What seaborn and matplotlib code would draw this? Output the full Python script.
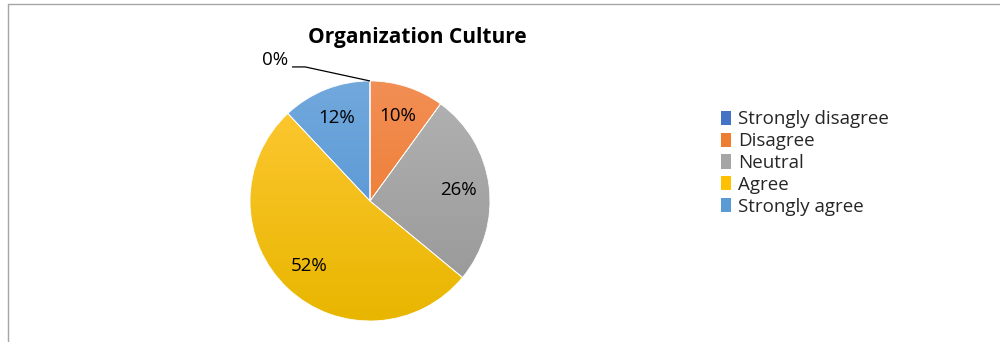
import numpy as np
import matplotlib
matplotlib.use("Agg")
import matplotlib.pyplot as plt
from matplotlib.colors import LinearSegmentedColormap
from matplotlib.patches import Patch
from matplotlib.lines import Line2D
import seaborn as sns

# Survey responses (percent of respondents)
categories = ["Strongly disagree", "Disagree", "Neutral", "Agree", "Strongly agree"]
percentages = [0, 10, 26, 52, 12]
title = "Organization Culture"

# Office-style gradient fills: (top colour, bottom colour)
gradients = [
    ("#5682D0", "#3A66BE"),
    ("#F28F55", "#EC7220"),
    ("#B3B3B3", "#959595"),
    ("#FFC936", "#E8B600"),
    ("#72A9DD", "#4A8DD0"),
]
legend_colors = ["#4472C4", "#ED7D31", "#A5A5A5", "#FFC000", "#5B9BD5"]

sns.set_theme(style="white")
plt.rcParams["font.family"] = ["Open Sans", "DejaVu Sans"]

fig = plt.figure(figsize=(10, 3.42), dpi=100)
ax = fig.add_axes([0.19, 0.0, 0.36, 322 / 342])

wedges, _ = ax.pie(
    percentages,
    startangle=90,
    counterclock=False,
    colors=legend_colors,
    radius=1.0,
    wedgeprops=dict(edgecolor="white", linewidth=0.6),
)

# Vertical gradient inside each wedge
grad = np.linspace(0, 1, 256).reshape(-1, 1)
for w, (top, bottom) in zip(wedges, gradients):
    cmap = LinearSegmentedColormap.from_list("g", [top, bottom])
    im = ax.imshow(grad, cmap=cmap, extent=(-1, 1, -1, 1), origin="upper",
                   aspect="auto", zorder=w.get_zorder() + 0.1)
    im.set_clip_path(w)
    w.set_facecolor("none")
    w.set_zorder(w.get_zorder() + 0.2)

# Percentage labels at the middle of each slice
total = sum(percentages)
start = 90.0
for w, p in zip(wedges, percentages):
    sweep = 360.0 * p / total
    mid = np.deg2rad(start - sweep / 2)
    start -= sweep
    if p == 0:
        continue
    ax.text(0.745 * np.cos(mid), 0.745 * np.sin(mid), f"{p}%",
            ha="center", va="center", fontsize=13.5, color="#000000", zorder=10)

# Zero-size slice gets an outside label with a leader line
ax.text(-0.68, 1.175, f"{percentages[0]}%", ha="right", va="center",
        fontsize=13.5, color="#000000")
ax.plot([-0.65, -0.54, 0.0], [1.117, 1.117, 1.0], color="black",
        linewidth=0.9, solid_capstyle="butt", zorder=10)

ax.set_xlim(-1.5, 1.5)
ax.set_ylim(-1.175, 1.508)
ax.set_aspect("auto")
ax.axis("off")

fig.text(0.417, 1 - 37 / 342, title, ha="center", va="center",
         fontsize=15, fontweight="bold", color="#000000")

handles = [Patch(facecolor=c, edgecolor="none") for c in legend_colors]
fig.legend(handles, categories, loc="center left",
           bbox_to_anchor=(0.721, 1 - 163 / 342), frameon=False,
           fontsize=13.5, handlelength=0.55, handleheight=0.78,
           handletextpad=0.35, labelspacing=0.2, borderpad=0,
           borderaxespad=0)

# Chart-area border (top and left edges)
fig.add_artist(Line2D([0.008, 1.0], [1 - 4 / 342, 1 - 4 / 342],
                      transform=fig.transFigure, color="#A6A6A6", linewidth=1))
fig.add_artist(Line2D([0.008, 0.008], [1 - 4 / 342, 0.0],
                      transform=fig.transFigure, color="#A6A6A6", linewidth=1))

fig.savefig("out.png", dpi=100, facecolor="white")
